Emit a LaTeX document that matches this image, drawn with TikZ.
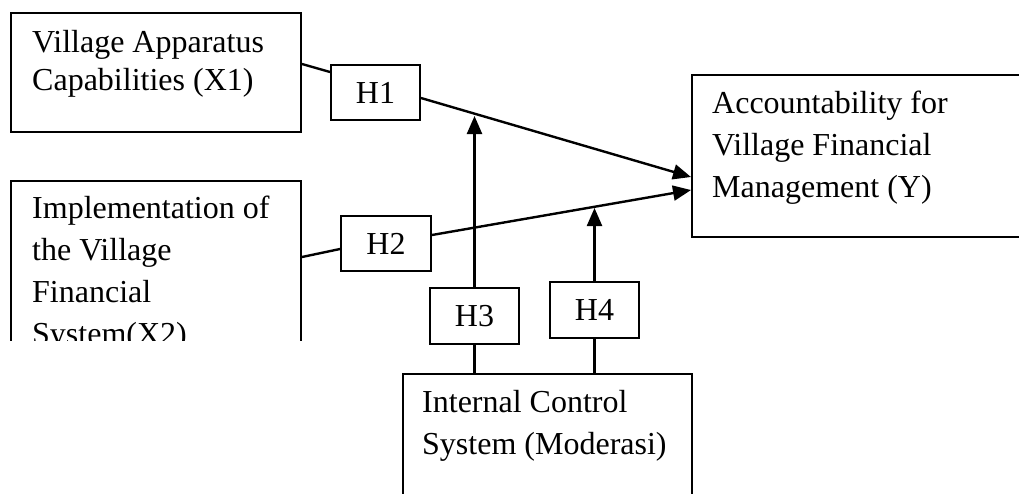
\documentclass[tikz,border=0pt]{standalone}
\usepackage{fontspec}
\setmainfont{Liberation Serif}
\usetikzlibrary{calc,arrows.meta}

\begin{document}
\begin{tikzpicture}[x=1pt,y=-1pt,font=\fontsize{32}{42}\selectfont]
\tikzset{B/.style={draw,line width=2pt,inner sep=0,anchor=north west},
T/.style={inner sep=0,anchor=north west,align=left},
H/.style={draw,line width=2pt,inner sep=0,anchor=north west,minimum width=89,minimum height=55},
L/.style={line width=2.4pt},
A/.style={line width=2.4pt,-{Triangle[length=18pt,width=15pt]}}
}

\useasboundingbox (0,0) rectangle (1019,493);
\clip (0,0) rectangle (1019,493);

% Variables
\node[B,minimum width=290,minimum height=119] (vac) at (10,12) {};
\node[T,font=\fontsize{32}{38}\selectfont] (vactext) at (32,30) {Village Apparatus\\Capabilities (X1)};

\begin{scope}
\clip (0,170) rectangle (330,340);
\node[B,minimum width=290,minimum height=200] (ivfs) at (10,180) {};
\node[T] (ivfstext) at (32,196) {Implementation of\\the Village\\Financial\\System(X2)};
\end{scope}

\node[B,minimum width=360,minimum height=162] (acc) at (691,74) {};
\node[T] (acctext) at (712,91) {Accountability for\\Village Financial\\Management (Y)};

\node[B,minimum width=289,minimum height=160] (ics) at (402,373) {};
\node[T] (icstext) at (422,390) {Internal Control\\System (Moderasi)};

% Hypotheses
\node[H] (h1) at (330,64) {H1};
\node[H,minimum width=90] (h2) at (340,215) {H2};
\node[H,minimum height=56] (h3) at (429,287) {H3};
\node[H,minimum height=56] (h4) at (549,281) {H4};

% Paths
\draw[L] (vac.east |- 0,64) -- (h1.west |- 0,72);
\draw[A] (h1.east |- 0,98) -- (acc.west |- 0,177);
\draw[L] (ivfs.east |- 0,257) -- (h2.west |- 0,249);
\draw[A] (h2.east |- 0,235) -- (acc.west |- 0,190);

% Moderation
\draw[A] (h3.north) -- (h3.north |- 0,116);
\draw[L] (h3.south) -- (h3.south |- ics.north);
\draw[A] (h4.north) -- (h4.north |- 0,208);
\draw[L] (h4.south) -- (h4.south |- ics.north);

\end{tikzpicture}
\end{document}
